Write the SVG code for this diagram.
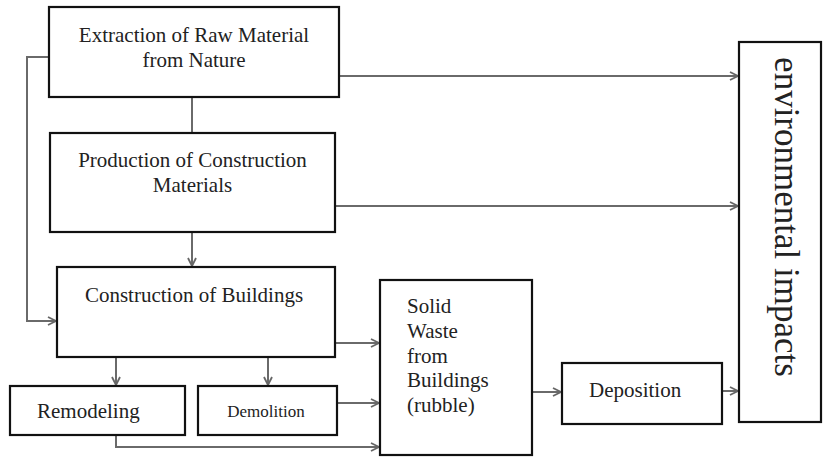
<svg xmlns="http://www.w3.org/2000/svg" width="823" height="457" viewBox="0 0 823 457">
<defs>
<marker id="arr" viewBox="0 0 10 10" refX="9" refY="5" markerWidth="10" markerHeight="10" markerUnits="userSpaceOnUse" orient="auto">
<path d="M1,1 L9,5 L1,9" fill="none" stroke="#666" stroke-width="1.8"/>
</marker>
</defs>
<style>
.box{fill:#fff;stroke:#111;stroke-width:2.2}
.t{font-family:"Liberation Serif","Times New Roman",serif;font-size:21px;fill:#222}
.c{text-anchor:middle}
.ln{fill:none;stroke:#6a6a6a;stroke-width:2}
</style>
<rect width="823" height="457" fill="#fff"/>
<g id="connectors">
<path class="ln" d="M192,97 V133"/>
<path class="ln" d="M192,232 V266" marker-end="url(#arr)"/>
<path class="ln" d="M49,57 H27 V321 H56" marker-end="url(#arr)"/>
<path class="ln" d="M339,76 H738" marker-end="url(#arr)"/>
<path class="ln" d="M335,206 H738" marker-end="url(#arr)"/>
<path class="ln" d="M116,357 V385" marker-end="url(#arr)"/>
<path class="ln" d="M268,357 V385" marker-end="url(#arr)"/>
<path class="ln" d="M335,343 H379" marker-end="url(#arr)"/>
<path class="ln" d="M337,403 H379" marker-end="url(#arr)"/>
<path class="ln" d="M116,435 V447 H379" marker-end="url(#arr)"/>
<path class="ln" d="M532,392 H561" marker-end="url(#arr)"/>
<path class="ln" d="M722,391 H738" marker-end="url(#arr)"/>
</g>
<g id="extraction">
<rect class="box" x="49" y="7" width="290" height="90"/>
<text class="t c" x="194" y="42">Extraction of Raw Material</text>
<text class="t c" x="194" y="67">from Nature</text>
</g>
<g id="production">
<rect class="box" x="50" y="133" width="285" height="99"/>
<text class="t c" x="192.5" y="167">Production of Construction</text>
<text class="t c" x="192.5" y="192">Materials</text>
</g>
<g id="construction">
<rect class="box" x="57" y="267" width="278" height="90"/>
<text class="t c" x="194" y="302">Construction of Buildings</text>
</g>
<g id="remodeling">
<rect class="box" x="10" y="386" width="175" height="49"/>
<text class="t" x="37" y="418">Remodeling</text>
</g>
<g id="demolition">
<rect class="box" x="198" y="386" width="139" height="49"/>
<text class="t c" x="266" y="417" style="font-size:17px">Demolition</text>
</g>
<g id="solid-waste">
<rect class="box" x="380" y="280" width="152" height="175"/>
<text class="t" x="407" y="313">Solid</text>
<text class="t" x="407" y="338">Waste</text>
<text class="t" x="407" y="363">from</text>
<text class="t" x="407" y="387">Buildings</text>
<text class="t" x="407" y="412">(rubble)</text>
</g>
<g id="deposition">
<rect class="box" x="562" y="363" width="160" height="61"/>
<text class="t" x="589" y="397">Deposition</text>
</g>
<g id="environmental-impacts">
<rect class="box" x="739" y="42" width="82" height="380"/>
<text class="t c" transform="translate(775,217) rotate(90)" style="font-size:35px">environmental impacts</text>
</g>
</svg>
